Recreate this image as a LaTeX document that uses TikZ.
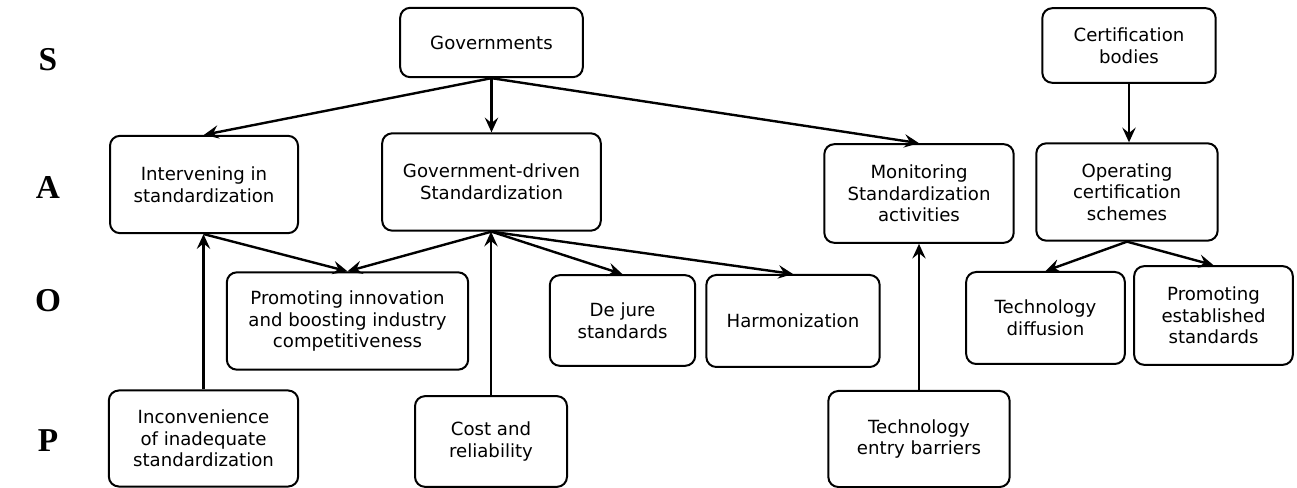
\documentclass[tikz,border=0pt]{standalone}
\usepackage{fontspec}
\setmainfont{DejaVu Sans}
\newfontfamily\lblfont{Liberation Serif}
\usetikzlibrary{arrows.meta}
\begin{document}
\begin{tikzpicture}[x=0.75pt,y=-0.75pt,
  box/.style={draw, line width=1.5pt, rounded corners=7.5pt, align=center,
    inner sep=0pt, font=\fontsize{13.6pt}{16.3pt}\selectfont},
  lvl/.style={font=\lblfont\bfseries\fontsize{25pt}{25pt}\selectfont, inner sep=0pt},
  arr/.style={line width=1.8pt, -{Stealth[length=11pt,width=10pt,inset=4pt]}}]
\useasboundingbox (0,0) rectangle (1297,488);

% level labels
\node[lvl] (lS) at (48,60) {S};
\node[lvl] (lA) at (48,187) {A};
\node[lvl] (lO) at (48,301) {O};
\node[lvl] (lP) at (48,441) {P};

% S: stakeholders
\node[box, minimum width=137pt, minimum height=52pt] (gov) at (491.5,42.5) {Governments};
\node[box, minimum width=130pt, minimum height=56pt] (cert) at (1129,45.5) {Certification\\bodies};

% A: activities
\node[box, minimum width=141pt, minimum height=73pt] (int) at (204,184.5) {Intervening in\\standardization};
\node[box, minimum width=164pt, minimum height=73pt] (gd) at (491.5,182) {Government-driven\\Standardization};
\node[box, minimum width=142pt, minimum height=74pt] (mon) at (919,193.5) {Monitoring\\Standardization\\activities};
\node[box, minimum width=136pt, minimum height=73pt] (op) at (1127,192) {Operating\\certification\\schemes};

% O: outcomes
\node[box, minimum width=181pt, minimum height=73pt] (promo) at (347.5,321) {Promoting innovation\\and boosting industry\\competitiveness};
\node[box, minimum width=109pt, minimum height=68pt] (dej) at (622.5,320.5) {De jure\\standards};
\node[box, minimum width=130pt, minimum height=69pt] (harm) at (793,321) {Harmonization};
\node[box, minimum width=119pt, minimum height=69pt] (diff) at (1045.5,318) {Technology\\diffusion};
\node[box, minimum width=119pt, minimum height=74pt] (est) at (1213.5,315.5) {Promoting\\established\\standards};

% P: problems
\node[box, minimum width=142pt, minimum height=72pt] (inc) at (203.5,438.5) {Inconvenience\\of inadequate\\standardization};
\node[box, minimum width=114pt, minimum height=68pt] (cost) at (491,441.5) {Cost and\\reliability};
\node[box, minimum width=136pt, minimum height=72pt] (teb) at (919,439) {Technology\\entry barriers};

% connectors
\draw[arr] (gov.south) -- (int.north);
\draw[arr] (gov.south) -- (gd.north);
\draw[arr] (gov.south) -- (mon.north);
\draw[arr] (cert.south) -- (cert.south |- op.north);
\draw[arr] (int.south) -- (promo.north);
\draw[arr] (gd.south) -- (promo.north);
\draw[arr] (gd.south) -- (dej.north);
\draw[arr] (gd.south) -- (harm.north);
\draw[arr] (inc.north) -- (inc.north |- int.south);
\draw[arr] (cost.north) -- (cost.north |- gd.south);
\draw[arr] (teb.north) -- (mon.south);
\draw[arr] (op.south) -- (diff.north);
\draw[arr] (op.south) -- (est.north);
\end{tikzpicture}
\end{document}
